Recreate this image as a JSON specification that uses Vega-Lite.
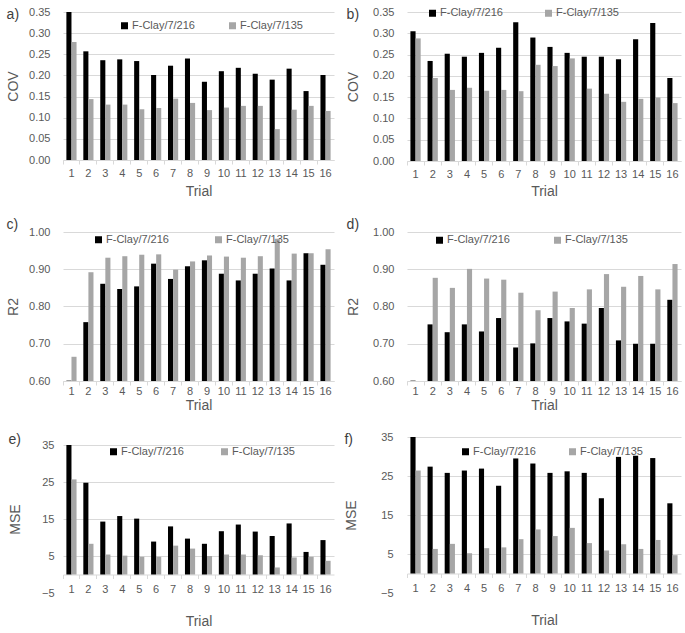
{
"$schema": "https://vega.github.io/schema/vega-lite/v6.json",
"padding": {"left": 6, "top": 6, "right": 2, "bottom": 2},
"datasets": {
"a": [
{"t":1,"s":"216","v":0.350},{"t":2,"s":"216","v":0.257},{"t":3,"s":"216","v":0.236},{"t":4,"s":"216","v":0.238},{"t":5,"s":"216","v":0.234},{"t":6,"s":"216","v":0.201},{"t":7,"s":"216","v":0.223},{"t":8,"s":"216","v":0.240},{"t":9,"s":"216","v":0.185},{"t":10,"s":"216","v":0.210},{"t":11,"s":"216","v":0.218},{"t":12,"s":"216","v":0.204},{"t":13,"s":"216","v":0.190},{"t":14,"s":"216","v":0.216},{"t":15,"s":"216","v":0.163},{"t":16,"s":"216","v":0.201},
{"t":1,"s":"135","v":0.279},{"t":2,"s":"135","v":0.144},{"t":3,"s":"135","v":0.131},{"t":4,"s":"135","v":0.131},{"t":5,"s":"135","v":0.120},{"t":6,"s":"135","v":0.123},{"t":7,"s":"135","v":0.145},{"t":8,"s":"135","v":0.135},{"t":9,"s":"135","v":0.118},{"t":10,"s":"135","v":0.124},{"t":11,"s":"135","v":0.128},{"t":12,"s":"135","v":0.128},{"t":13,"s":"135","v":0.073},{"t":14,"s":"135","v":0.119},{"t":15,"s":"135","v":0.128},{"t":16,"s":"135","v":0.116}],
"b": [
{"t":1,"s":"216","v":0.305},{"t":2,"s":"216","v":0.235},{"t":3,"s":"216","v":0.252},{"t":4,"s":"216","v":0.245},{"t":5,"s":"216","v":0.254},{"t":6,"s":"216","v":0.266},{"t":7,"s":"216","v":0.326},{"t":8,"s":"216","v":0.290},{"t":9,"s":"216","v":0.268},{"t":10,"s":"216","v":0.254},{"t":11,"s":"216","v":0.245},{"t":12,"s":"216","v":0.245},{"t":13,"s":"216","v":0.239},{"t":14,"s":"216","v":0.286},{"t":15,"s":"216","v":0.324},{"t":16,"s":"216","v":0.195},
{"t":1,"s":"135","v":0.288},{"t":2,"s":"135","v":0.195},{"t":3,"s":"135","v":0.167},{"t":4,"s":"135","v":0.172},{"t":5,"s":"135","v":0.165},{"t":6,"s":"135","v":0.167},{"t":7,"s":"135","v":0.164},{"t":8,"s":"135","v":0.226},{"t":9,"s":"135","v":0.223},{"t":10,"s":"135","v":0.241},{"t":11,"s":"135","v":0.170},{"t":12,"s":"135","v":0.158},{"t":13,"s":"135","v":0.139},{"t":14,"s":"135","v":0.146},{"t":15,"s":"135","v":0.149},{"t":16,"s":"135","v":0.136}],
"c": [
{"t":1,"s":"216","v":0.601},{"t":2,"s":"216","v":0.758},{"t":3,"s":"216","v":0.861},{"t":4,"s":"216","v":0.847},{"t":5,"s":"216","v":0.854},{"t":6,"s":"216","v":0.915},{"t":7,"s":"216","v":0.874},{"t":8,"s":"216","v":0.908},{"t":9,"s":"216","v":0.924},{"t":10,"s":"216","v":0.888},{"t":11,"s":"216","v":0.870},{"t":12,"s":"216","v":0.888},{"t":13,"s":"216","v":0.902},{"t":14,"s":"216","v":0.870},{"t":15,"s":"216","v":0.943},{"t":16,"s":"216","v":0.912},
{"t":1,"s":"135","v":0.665},{"t":2,"s":"135","v":0.892},{"t":3,"s":"135","v":0.931},{"t":4,"s":"135","v":0.935},{"t":5,"s":"135","v":0.939},{"t":6,"s":"135","v":0.940},{"t":7,"s":"135","v":0.899},{"t":8,"s":"135","v":0.921},{"t":9,"s":"135","v":0.937},{"t":10,"s":"135","v":0.934},{"t":11,"s":"135","v":0.931},{"t":12,"s":"135","v":0.935},{"t":13,"s":"135","v":0.982},{"t":14,"s":"135","v":0.942},{"t":15,"s":"135","v":0.943},{"t":16,"s":"135","v":0.954}],
"d": [
{"t":1,"s":"216","v":0.601},{"t":2,"s":"216","v":0.752},{"t":3,"s":"216","v":0.731},{"t":4,"s":"216","v":0.752},{"t":5,"s":"216","v":0.733},{"t":6,"s":"216","v":0.769},{"t":7,"s":"216","v":0.690},{"t":8,"s":"216","v":0.701},{"t":9,"s":"216","v":0.769},{"t":10,"s":"216","v":0.760},{"t":11,"s":"216","v":0.754},{"t":12,"s":"216","v":0.796},{"t":13,"s":"216","v":0.709},{"t":14,"s":"216","v":0.700},{"t":15,"s":"216","v":0.700},{"t":16,"s":"216","v":0.818},
{"t":1,"s":"135","v":0.600},{"t":2,"s":"135","v":0.877},{"t":3,"s":"135","v":0.850},{"t":4,"s":"135","v":0.901},{"t":5,"s":"135","v":0.875},{"t":6,"s":"135","v":0.872},{"t":7,"s":"135","v":0.837},{"t":8,"s":"135","v":0.790},{"t":9,"s":"135","v":0.840},{"t":10,"s":"135","v":0.796},{"t":11,"s":"135","v":0.846},{"t":12,"s":"135","v":0.887},{"t":13,"s":"135","v":0.853},{"t":14,"s":"135","v":0.882},{"t":15,"s":"135","v":0.846},{"t":16,"s":"135","v":0.914}],
"e": [
{"t":1,"s":"216","v":35},{"t":2,"s":"216","v":24.8},{"t":3,"s":"216","v":14.3},{"t":4,"s":"216","v":15.8},{"t":5,"s":"216","v":15.1},{"t":6,"s":"216","v":8.9},{"t":7,"s":"216","v":13.0},{"t":8,"s":"216","v":9.7},{"t":9,"s":"216","v":8.3},{"t":10,"s":"216","v":11.7},{"t":11,"s":"216","v":13.5},{"t":12,"s":"216","v":11.6},{"t":13,"s":"216","v":10.4},{"t":14,"s":"216","v":13.8},{"t":15,"s":"216","v":6.1},{"t":16,"s":"216","v":9.3},
{"t":1,"s":"135","v":25.7},{"t":2,"s":"135","v":8.3},{"t":3,"s":"135","v":5.4},{"t":4,"s":"135","v":5.1},{"t":5,"s":"135","v":4.8},{"t":6,"s":"135","v":4.8},{"t":7,"s":"135","v":7.8},{"t":8,"s":"135","v":7.0},{"t":9,"s":"135","v":5.0},{"t":10,"s":"135","v":5.4},{"t":11,"s":"135","v":5.4},{"t":12,"s":"135","v":5.2},{"t":13,"s":"135","v":1.9},{"t":14,"s":"135","v":4.6},{"t":15,"s":"135","v":4.8},{"t":16,"s":"135","v":3.7}],
"f": [
{"t":1,"s":"216","v":35},{"t":2,"s":"216","v":27.4},{"t":3,"s":"216","v":25.8},{"t":4,"s":"216","v":26.4},{"t":5,"s":"216","v":26.9},{"t":6,"s":"216","v":22.5},{"t":7,"s":"216","v":29.5},{"t":8,"s":"216","v":28.2},{"t":9,"s":"216","v":25.8},{"t":10,"s":"216","v":26.2},{"t":11,"s":"216","v":25.8},{"t":12,"s":"216","v":19.3},{"t":13,"s":"216","v":29.9},{"t":14,"s":"216","v":30.2},{"t":15,"s":"216","v":29.6},{"t":16,"s":"216","v":18.0},
{"t":1,"s":"135","v":26.4},{"t":2,"s":"135","v":6.3},{"t":3,"s":"135","v":7.6},{"t":4,"s":"135","v":5.2},{"t":5,"s":"135","v":6.5},{"t":6,"s":"135","v":6.7},{"t":7,"s":"135","v":8.8},{"t":8,"s":"135","v":11.3},{"t":9,"s":"135","v":9.6},{"t":10,"s":"135","v":11.7},{"t":11,"s":"135","v":7.8},{"t":12,"s":"135","v":5.9},{"t":13,"s":"135","v":7.5},{"t":14,"s":"135","v":6.3},{"t":15,"s":"135","v":8.6},{"t":16,"s":"135","v":4.7}]
},
"config": {
"font": "Liberation Sans",
"view": {"stroke": null},
"axis": {"labelFontSize": 11, "labelColor": "#595959", "titleFontSize": 14, "titleFontWeight": "normal", "titleColor": "#595959", "gridColor": "#d9d9d9", "domainColor": "#d9d9d9", "tickColor": "#d9d9d9"},
"axisX": {"labelAngle": 0, "tickSize": 4, "bandPosition": -0.3333, "labelPadding": 1, "titlePadding": 3, "grid": false},
"axisY": {"domain": false, "ticks": false, "labelPadding": 13, "titlePadding": 8},
"legend": {"orient": "none", "direction": "horizontal", "symbolType": "square", "symbolSize": 49, "symbolStrokeWidth": 0, "labelFontSize": 11, "labelColor": "#595959", "labelOffset": 2, "padding": 0},
"title": {"fontSize": 14, "fontWeight": "normal", "color": "#404040", "anchor": "start", "frame": "bounds"},
"bar": {"stroke": null}
},
"columns": 2,
"spacing": {"row": 19, "column": 10},
"resolve": {"scale": {"x": "independent", "y": "independent", "color": "independent", "xOffset": "independent"}, "legend": {"color": "independent"}, "axis": {"x": "independent", "y": "independent"}},
"concat": [
{"data": {"name": "a"}, "width": 271, "height": 148,
 "title": {"text": "a)", "offset": -16},
 "mark": {"type": "bar"},
 "encoding": {
  "x": {"field": "t", "type": "ordinal", "title": "Trial", "scale": {"paddingInner": 0.4, "paddingOuter": 0.2}, "axis": {"titlePadding": 6, "labelPadding": 3.5}},
  "xOffset": {"field": "s", "type": "nominal", "scale": {"domain": ["216", "135"]}},
  "y": {"field": "v", "type": "quantitative", "title": "COV", "scale": {"domain": [0, 0.35]}, "axis": {"values": [0, 0.05, 0.1, 0.15, 0.2, 0.25, 0.3, 0.35], "format": ".2f"}},
  "y2": {"datum": 0},
  "color": {"field": "s", "type": "nominal", "scale": {"domain": ["216", "135"], "range": ["#000000", "#a6a6a6"]}, "legend": {"title": null, "labelExpr": "'F-Clay/7/' + datum.label", "legendX": 56, "legendY": 8, "columnPadding": 32}}
 }},
{"data": {"name": "b"}, "width": 274, "height": 149,
 "title": {"text": "b)", "offset": -16},
 "mark": {"type": "bar"},
 "encoding": {
  "x": {"field": "t", "type": "ordinal", "title": "Trial", "scale": {"paddingInner": 0.4, "paddingOuter": 0.2}, "axis": {"titlePadding": 5, "labelPadding": 3.5}},
  "xOffset": {"field": "s", "type": "nominal", "scale": {"domain": ["216", "135"]}},
  "y": {"field": "v", "type": "quantitative", "title": "COV", "scale": {"domain": [0, 0.35]}, "axis": {"values": [0, 0.05, 0.1, 0.15, 0.2, 0.25, 0.3, 0.35], "format": ".2f", "titlePadding": 12}},
  "y2": {"datum": 0},
  "color": {"field": "s", "type": "nominal", "scale": {"domain": ["216", "135"], "range": ["#000000", "#a6a6a6"]}, "legend": {"title": null, "labelExpr": "'F-Clay/7/' + datum.label", "legendX": 20, "legendY": -4.5, "columnPadding": 40}}
 }},
{"data": {"name": "c"}, "width": 271, "height": 149,
 "title": {"text": "c)", "offset": -6},
 "mark": {"type": "bar"},
 "encoding": {
  "x": {"field": "t", "type": "ordinal", "title": "Trial", "scale": {"paddingInner": 0.4, "paddingOuter": 0.2}, "axis": {"titlePadding": 1.5, "labelPadding": 0.5}},
  "xOffset": {"field": "s", "type": "nominal", "scale": {"domain": ["216", "135"]}},
  "y": {"field": "v", "type": "quantitative", "title": "R2", "scale": {"domain": [0.6, 1.0]}, "axis": {"values": [0.6, 0.7, 0.8, 0.9, 1.0], "format": ".2f"}},
  "y2": {"datum": 0.6},
  "color": {"field": "s", "type": "nominal", "scale": {"domain": ["216", "135"], "range": ["#000000", "#a6a6a6"]}, "legend": {"title": null, "labelExpr": "'F-Clay/7/' + datum.label", "legendX": 30, "legendY": 2, "columnPadding": 44}}
 }},
{"data": {"name": "d"}, "width": 274, "height": 149,
 "title": {"text": "d)", "offset": -6},
 "mark": {"type": "bar"},
 "encoding": {
  "x": {"field": "t", "type": "ordinal", "title": "Trial", "scale": {"paddingInner": 0.4, "paddingOuter": 0.2}, "axis": {"titlePadding": 1.5, "labelPadding": 0.5}},
  "xOffset": {"field": "s", "type": "nominal", "scale": {"domain": ["216", "135"]}},
  "y": {"field": "v", "type": "quantitative", "title": "R2", "scale": {"domain": [0.6, 1.0]}, "axis": {"values": [0.6, 0.7, 0.8, 0.9, 1.0], "format": ".2f", "titlePadding": 12}},
  "y2": {"datum": 0.6},
  "color": {"field": "s", "type": "nominal", "scale": {"domain": ["216", "135"], "range": ["#000000", "#a6a6a6"]}, "legend": {"title": null, "labelExpr": "'F-Clay/7/' + datum.label", "legendX": 27, "legendY": 2.5, "columnPadding": 42}}
 }},
{"data": {"name": "e"}, "width": 271, "height": 156,
 "title": {"text": "e)", "offset": -10},
 "mark": {"type": "bar"},
 "encoding": {
  "x": {"field": "t", "type": "ordinal", "title": "Trial", "scale": {"paddingInner": 0.4, "paddingOuter": 0.2}, "axis": {"offset": -18.5, "titlePadding": 20, "labelPadding": 4.5}},
  "xOffset": {"field": "s", "type": "nominal", "scale": {"domain": ["216", "135"]}},
  "y": {"field": "v", "type": "quantitative", "title": "MSE", "scale": {"domain": [-5, 35], "range": [156, 8]}, "axis": {"values": [-5, 5, 15, 25, 35], "format": "d", "labelPadding": 9, "titlePadding": 19, "gridOpacity": {"condition": {"test": "datum.value < 0", "value": 0}, "value": 1}}},
  "y2": {"datum": 0},
  "color": {"field": "s", "type": "nominal", "scale": {"domain": ["216", "135"], "range": ["#000000", "#a6a6a6"]}, "legend": {"title": null, "labelExpr": "'F-Clay/7/' + datum.label", "legendX": 45, "legendY": 9, "columnPadding": 35}}
 }},
{"data": {"name": "f"}, "width": 274, "height": 156,
 "title": {"text": "f)", "offset": -16},
 "mark": {"type": "bar"},
 "encoding": {
  "x": {"field": "t", "type": "ordinal", "title": "Trial", "scale": {"paddingInner": 0.4, "paddingOuter": 0.2}, "axis": {"offset": -19.5, "titlePadding": 20, "labelPadding": 4.5}},
  "xOffset": {"field": "s", "type": "nominal", "scale": {"domain": ["216", "135"]}},
  "y": {"field": "v", "type": "quantitative", "title": "MSE", "scale": {"domain": [-5, 35]}, "axis": {"values": [-5, 5, 15, 25, 35], "format": "d", "labelPadding": 14, "titlePadding": 22, "gridOpacity": {"condition": {"test": "datum.value < 0", "value": 0}, "value": 1}}},
  "y2": {"datum": 0},
  "color": {"field": "s", "type": "nominal", "scale": {"domain": ["216", "135"], "range": ["#000000", "#a6a6a6"]}, "legend": {"title": null, "labelExpr": "'F-Clay/7/' + datum.label", "legendX": 53, "legendY": 9, "columnPadding": 31}}
 }}
]
}
